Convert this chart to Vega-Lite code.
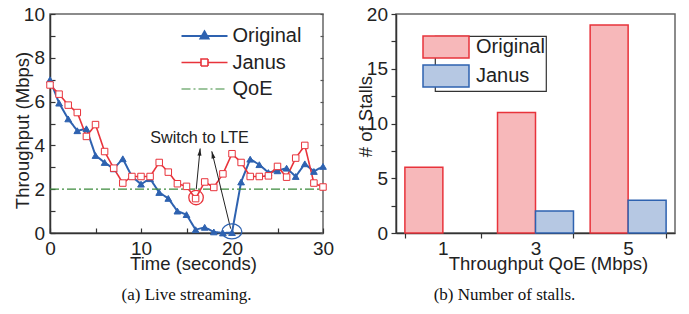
{
  "$schema": "https://vega.github.io/schema/vega-lite/v6.json",
  "autosize": {"type": "none"},
  "padding": {"left": 50, "top": 14, "right": 639, "bottom": 300},
  "bounds": "flush",
  "spacing": 73,
  "resolve": {
    "scale": {"color": "independent", "fill": "independent", "stroke": "independent", "shape": "independent", "size": "independent", "strokeWidth": "independent", "strokeDash": "independent"},
    "legend": {"color": "independent", "fill": "independent", "stroke": "independent"}
  },
  "config": {
    "view": {"stroke": "#666", "strokeWidth": 1.5},
    "font": "Liberation Sans",
    "axis": {"domainColor": "#333", "domainWidth": 1.5, "tickColor": "#333", "tickWidth": 1.2, "labelFont": "Liberation Sans", "labelFontSize": 19, "labelColor": "#222", "titleFont": "Liberation Sans", "titleFontSize": 18.5, "titleFontWeight": "normal", "titleColor": "#222", "grid": false, "labelFlush": false, "labelOverlap": false},
    "legend": {"labelFont": "Liberation Sans", "labelFontSize": 20, "labelColor": "#222", "labelLimit": 0},
    "title": {"font": "Liberation Serif", "fontSize": 17, "fontWeight": "normal", "color": "#111"}
  },
  "datasets": {
    "throughput": [
      {"t": 0, "v": 7.0, "s": "Original"}, {"t": 1, "v": 5.93, "s": "Original"}, {"t": 2, "v": 5.21, "s": "Original"}, {"t": 3, "v": 4.67, "s": "Original"}, {"t": 4, "v": 4.76, "s": "Original"}, {"t": 5, "v": 3.54, "s": "Original"}, {"t": 6, "v": 3.22, "s": "Original"}, {"t": 7, "v": 2.93, "s": "Original"}, {"t": 8, "v": 3.39, "s": "Original"}, {"t": 9, "v": 2.58, "s": "Original"}, {"t": 10, "v": 2.23, "s": "Original"}, {"t": 11, "v": 2.48, "s": "Original"}, {"t": 12, "v": 1.85, "s": "Original"}, {"t": 13, "v": 1.58, "s": "Original"}, {"t": 14, "v": 1.0, "s": "Original"}, {"t": 15, "v": 0.84, "s": "Original"}, {"t": 16, "v": 0.15, "s": "Original"}, {"t": 17, "v": 0.26, "s": "Original"}, {"t": 18, "v": 0.05, "s": "Original"}, {"t": 19, "v": 0.0, "s": "Original"}, {"t": 20, "v": 0.02, "s": "Original"}, {"t": 21, "v": 2.33, "s": "Original"}, {"t": 22, "v": 3.37, "s": "Original"}, {"t": 23, "v": 3.12, "s": "Original"}, {"t": 24, "v": 2.76, "s": "Original"}, {"t": 25, "v": 2.84, "s": "Original"}, {"t": 26, "v": 2.96, "s": "Original"}, {"t": 27, "v": 2.58, "s": "Original"}, {"t": 28, "v": 3.16, "s": "Original"}, {"t": 29, "v": 2.81, "s": "Original"}, {"t": 30, "v": 3.04, "s": "Original"},
      {"t": 0, "v": 6.76, "s": "Janus"}, {"t": 1, "v": 6.34, "s": "Janus"}, {"t": 2, "v": 5.84, "s": "Janus"}, {"t": 3, "v": 5.5, "s": "Janus"}, {"t": 4, "v": 4.41, "s": "Janus"}, {"t": 5, "v": 4.95, "s": "Janus"}, {"t": 6, "v": 3.72, "s": "Janus"}, {"t": 7, "v": 2.96, "s": "Janus"}, {"t": 8, "v": 2.28, "s": "Janus"}, {"t": 9, "v": 2.58, "s": "Janus"}, {"t": 10, "v": 2.58, "s": "Janus"}, {"t": 11, "v": 2.58, "s": "Janus"}, {"t": 12, "v": 3.22, "s": "Janus"}, {"t": 13, "v": 2.78, "s": "Janus"}, {"t": 14, "v": 2.25, "s": "Janus"}, {"t": 15, "v": 2.13, "s": "Janus"}, {"t": 16, "v": 1.57, "s": "Janus"}, {"t": 17, "v": 2.33, "s": "Janus"}, {"t": 18, "v": 2.08, "s": "Janus"}, {"t": 19, "v": 2.7, "s": "Janus"}, {"t": 20, "v": 3.62, "s": "Janus"}, {"t": 21, "v": 3.22, "s": "Janus"}, {"t": 22, "v": 2.58, "s": "Janus"}, {"t": 23, "v": 2.58, "s": "Janus"}, {"t": 24, "v": 2.61, "s": "Janus"}, {"t": 25, "v": 3.04, "s": "Janus"}, {"t": 26, "v": 2.55, "s": "Janus"}, {"t": 27, "v": 3.42, "s": "Janus"}, {"t": 28, "v": 4.0, "s": "Janus"}, {"t": 29, "v": 2.28, "s": "Janus"}, {"t": 30, "v": 2.1, "s": "Janus"},
      {"t": 0, "v": 2, "s": "QoE"}, {"t": 30, "v": 2, "s": "QoE"}
    ],
    "label": [{"t": 16.43, "v": 4.11, "text": "Switch to LTE"}],
    "arrows": [{"id": 1, "t": 16.07, "v": 2.0, "t2": 16.5, "v2": 3.86}, {"id": 2, "t": 19.85, "v": 0.2, "t2": 17.78, "v2": 3.73}],
    "rings": [{"t": 16.05, "v": 1.62, "s": "Janus"}, {"t": 19.98, "v": 0.07, "s": "Original"}],
    "stalls": [
      {"q": "1", "s": "Original", "n": 6}, {"q": "1", "s": "Janus", "n": 0},
      {"q": "3", "s": "Original", "n": 11}, {"q": "3", "s": "Janus", "n": 2},
      {"q": "5", "s": "Original", "n": 19}, {"q": "5", "s": "Janus", "n": 3}
    ]
  },
  "hconcat": [
    {
      "width": 273,
      "height": 219,
      "title": {"text": "(a) Live streaming.", "orient": "bottom", "offset": 14},
      "resolve": {"axis": {"y": "independent"}},
      "layer": [
        {
          "data": {"name": "throughput"},
          "mark": {"type": "line"},
          "encoding": {
            "x": {"field": "t", "type": "quantitative", "scale": {"domain": [0, 30], "nice": false},
              "axis": {"values": [0, 5, 10, 15, 20, 25, 30], "labelExpr": "datum.value % 10 === 0 ? datum.label : ''", "tickSize": -5, "labelPadding": 26, "labelBaseline": "alphabetic", "title": "Time (seconds)", "titleX": 143, "titleY": 36, "titleBaseline": "alphabetic",
                "encode": {"ticks": {"update": {"y2": {"signal": "datum.value % 10 === 0 ? -5 : -3"}}}}}},
            "y": {"field": "v", "type": "quantitative", "scale": {"domain": [0, 10], "nice": false},
              "axis": {"values": [0, 1, 2, 3, 4, 5, 6, 7, 8, 9, 10], "labelExpr": "datum.value % 2 === 0 ? datum.label : ''", "tickSize": -5, "labelPadding": 10.5, "title": "Throughput (Mbps)", "titleX": -21.5, "titleY": 116, "titleBaseline": "alphabetic",
                "encode": {"ticks": {"update": {"x2": {"signal": "datum.value % 2 === 0 ? 5 : 3"}}}}}},
            "color": {"field": "s", "type": "nominal", "scale": {"domain": ["Original", "Janus", "QoE"], "range": ["#2e62b0", "#e8333b", "#3d8b3d"]},
              "legend": {"orient": "none", "legendX": 144.5, "legendY": 12, "title": null, "symbolSize": 100, "labelOffset": 18, "rowPadding": 6.5, "padding": 0,
                "encode": {"symbols": {"update": {
                  "shape": {"signal": "datum.value === 'Original' ? 'M-4.6,0H4.6M0,-0.9L0.8,0.5H-0.8Z' : datum.value === 'Janus' ? 'M-4.6,0H-0.7M0.7,0H4.6M-0.7,-0.7H0.7V0.7H-0.7Z' : 'M-4.6,0H4.6'"},
                  "fill": {"signal": "datum.value === 'Original' ? '#2e62b0' : datum.value === 'Janus' ? '#ffffff' : 'transparent'"},
                  "strokeWidth": {"signal": "datum.value === 'Original' ? 2 : datum.value === 'Janus' ? 1.2 : 1.5"},
                  "strokeDash": {"signal": "datum.value === 'QoE' ? [9,3,2,3] : [1,0]"},
                  "opacity": {"value": 1}}}}}},
            "strokeWidth": {"field": "s", "type": "nominal", "scale": {"domain": ["Original", "Janus", "QoE"], "range": [2, 1.2, 1.5]}, "legend": null},
            "strokeDash": {"field": "s", "type": "nominal", "scale": {"domain": ["Original", "Janus", "QoE"], "range": [[1, 0], [1, 0], [9, 3, 2, 3]]}, "legend": null}
          }
        },
        {
          "data": {"name": "throughput"},
          "transform": [{"filter": "datum.s !== 'QoE'"}],
          "mark": {"type": "point", "filled": true, "strokeWidth": 1, "opacity": 1},
          "encoding": {
            "x": {"field": "t", "type": "quantitative"},
            "y": {"field": "v", "type": "quantitative", "axis": null},
            "shape": {"field": "s", "type": "nominal", "scale": {"domain": ["Original", "Janus"], "range": ["triangle-up", "square"]}, "legend": null},
            "size": {"field": "s", "type": "nominal", "scale": {"domain": ["Original", "Janus"], "range": [45, 42]}, "legend": null},
            "fill": {"field": "s", "type": "nominal", "scale": {"domain": ["Original", "Janus"], "range": ["#2e62b0", "#ffffff"]}, "legend": null},
            "stroke": {"field": "s", "type": "nominal", "scale": {"domain": ["Original", "Janus"], "range": ["#2e62b0", "#e8333b"]}, "legend": null}
          }
        },
        {
          "data": {"name": "label"},
          "mark": {"type": "text", "fontSize": 16.2, "align": "center", "baseline": "alphabetic", "color": "#222", "font": "Liberation Sans"},
          "encoding": {
            "x": {"field": "t", "type": "quantitative"},
            "y": {"field": "v", "type": "quantitative", "axis": null},
            "text": {"field": "text"}
          }
        },
        {
          "data": {"name": "arrows"},
          "mark": {"type": "rule", "color": "#222", "strokeWidth": 1},
          "encoding": {
            "x": {"field": "t", "type": "quantitative"},
            "y": {"field": "v", "type": "quantitative", "axis": null},
            "x2": {"field": "t2"},
            "y2": {"field": "v2"}
          }
        },
        {
          "data": {"name": "arrows"},
          "transform": [{"filter": "datum.id === 1"}],
          "mark": {"type": "point", "shape": "M0,0L0.5,1.8L-0.5,1.8Z", "size": 64, "filled": true, "color": "#222", "opacity": 1, "angle": 5.5},
          "encoding": {
            "x": {"field": "t2", "type": "quantitative"},
            "y": {"field": "v2", "type": "quantitative", "axis": null}
          }
        },
        {
          "data": {"name": "arrows"},
          "transform": [{"filter": "datum.id === 2"}],
          "mark": {"type": "point", "shape": "M0,0L0.5,1.8L-0.5,1.8Z", "size": 64, "filled": true, "color": "#222", "opacity": 1, "angle": -13.7},
          "encoding": {
            "x": {"field": "t2", "type": "quantitative"},
            "y": {"field": "v2", "type": "quantitative", "axis": null}
          }
        },
        {
          "data": {"name": "rings"},
          "transform": [{"filter": "datum.s === 'Janus'"}],
          "mark": {"type": "point", "shape": "circle", "size": 210, "filled": false, "color": "#e8333b", "strokeWidth": 1.3, "opacity": 1},
          "encoding": {
            "x": {"field": "t", "type": "quantitative"},
            "y": {"field": "v", "type": "quantitative", "axis": null}
          }
        },
        {
          "data": {"name": "rings"},
          "transform": [{"filter": "datum.s === 'Original'"}],
          "mark": {"type": "point", "shape": "M-1.33,0A1.33,1,0,1,0,1.33,0A1.33,1,0,1,0,-1.33,0Z", "size": 225, "filled": false, "color": "#2e62b0", "strokeWidth": 1.3, "opacity": 1},
          "encoding": {
            "x": {"field": "t", "type": "quantitative"},
            "y": {"field": "v", "type": "quantitative",
              "axis": {"orient": "right", "values": [0, 1, 2, 3, 4, 5, 6, 7, 8, 9, 10], "labels": false, "domain": false, "tickSize": -3, "title": null, "tickColor": "#555",
                "encode": {"ticks": {"update": {"x2": {"signal": "datum.value % 2 === 0 ? -5 : -3"}}}}}}
          }
        }
      ]
    },
    {
      "width": 279,
      "height": 219,
      "title": {"text": "(b) Number of stalls.", "orient": "bottom", "offset": 14, "dx": -31},
      "data": {"name": "stalls"},
      "transform": [{"filter": "datum.n > 0"}],
      "mark": {"type": "bar", "strokeWidth": 1.5},
      "encoding": {
        "x": {"field": "q", "type": "nominal", "scale": {"paddingInner": 0.18, "paddingOuter": 0.096},
          "axis": {"labelAngle": 0, "tickBand": "extent", "tickSize": 5, "labelPadding": 16, "labelBaseline": "alphabetic", "title": "Throughput QoE (Mbps)", "titleX": 152, "titleY": 36, "titleBaseline": "alphabetic"}},
        "xOffset": {"field": "s", "type": "nominal", "scale": {"domain": ["Original", "Janus"]}},
        "y": {"field": "n", "type": "quantitative", "scale": {"domain": [0, 20], "nice": false},
          "axis": {"values": [0, 2.5, 5, 7.5, 10, 12.5, 15, 17.5, 20], "labelExpr": "datum.value % 5 === 0 ? datum.label : ''", "tickSize": 5, "labelPadding": 3.5, "title": "# of Stalls", "titleX": -24.5, "titleY": 102, "titleBaseline": "alphabetic",
            "encode": {"ticks": {"update": {"x2": {"signal": "datum.value % 5 === 0 ? -5 : -3"}}}}}},
        "fill": {"field": "s", "type": "nominal", "scale": {"domain": ["Original", "Janus"], "range": ["#f7b8ba", "#b6c8e3"]},
          "legend": {"orient": "none", "legendX": 39, "legendY": 22, "title": null, "symbolSize": 100, "labelOffset": 20, "rowPadding": 1, "padding": 1, "strokeColor": "#333",
            "symbolType": "M-4.6,-2.2H4.6V2.2H-4.6Z",
            "encode": {
              "symbols": {"update": {"stroke": {"signal": "datum.value === 'Original' ? '#e8333b' : '#2e62b0'"}, "strokeWidth": {"value": 1.5}, "opacity": {"value": 1}}},
              "legend": {"update": {"stroke": {"value": "#333"}, "strokeWidth": {"value": 1.2}}}
            }}},
        "stroke": {"field": "s", "type": "nominal", "scale": {"domain": ["Original", "Janus"], "range": ["#e8333b", "#2e62b0"]}, "legend": null}
      }
    }
  ]
}
